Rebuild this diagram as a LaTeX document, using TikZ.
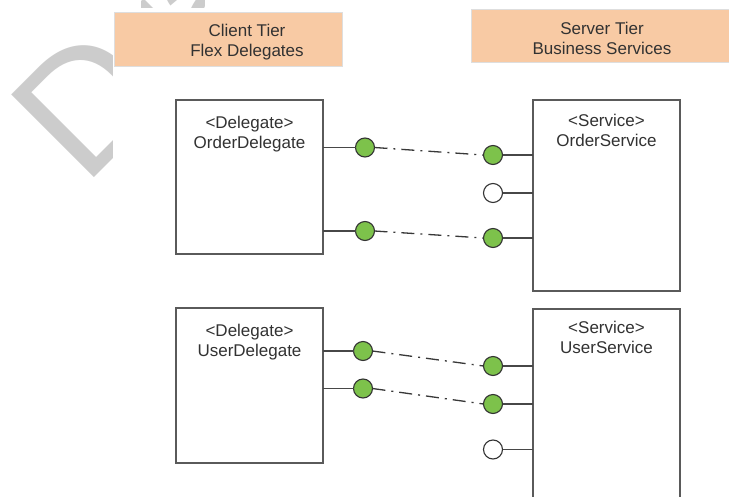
\documentclass[tikz,border=0pt]{standalone}
\usepackage{fontspec}
\setmainfont{Liberation Sans}
\usetikzlibrary{calc}
\definecolor{peach}{RGB}{248,202,164}
\definecolor{peachline}{RGB}{222,222,222}
\definecolor{boxline}{RGB}{90,90,90}
\definecolor{inktext}{RGB}{50,50,50}
\definecolor{lollygreen}{RGB}{125,194,75}
\definecolor{wmgrey}{RGB}{204,204,204}
\begin{document}
\begin{tikzpicture}[x=1pt,y=-1pt,
  tierbox/.style={draw=peachline,line width=0.8pt,fill=peach,inner sep=0pt,outer sep=0pt},
  tiertext/.style={align=center,inner sep=0pt,text=inktext,font=\fontsize{17}{20}\selectfont},
  compbox/.style={draw=boxline,line width=1.6pt,fill=white,inner sep=0pt,outer sep=0pt,minimum width=147pt},
  complabel/.style={align=center,inner sep=0pt,text=inktext,font=\fontsize{17}{20}\selectfont},
  port/.style={circle,draw=black!80,line width=1.1pt,fill=lollygreen,minimum size=19pt,inner sep=0pt,outer sep=0pt},
  freeport/.style={port,fill=white},
  stub/.style={draw=black!72,line width=1.4pt},
  wire/.style={draw=black!78,line width=1.3pt,dash pattern=on 13pt off 6pt on 2pt off 6pt},
  watermark/.style={text=wmgrey,inner sep=0pt,font=\fontsize{170}{170}\selectfont}]
\useasboundingbox (0,0) rectangle (729,496);
\clip (0,0) rectangle (729,496);
\fill[white] (0,0) rectangle (729,496);

% faint "Draft" stamp behind the drawing sheet
\node[watermark,rotate=45,anchor=base west] (stamp) at (84,188) {Draft};
% the drawing sheet hides most of the stamp
\fill[white] (113,8) rectangle (729,496);
\fill[white] (113,0) rectangle (141,8);
\fill[white] (205,0) rectangle (729,8);

% tier headers
\node[tierbox,minimum width=228pt,minimum height=54pt] (client) at (228,39) {};
\node[tiertext] (clienttxt) at (247,42.5) {Client Tier\\Flex Delegates};
\node[tierbox,minimum width=270pt,minimum height=53pt] (server) at (606,35.5) {};
\node[tiertext] (servertxt) at (602,38.5) {Server Tier\\Business Services};

% components
\node[compbox,minimum height=154pt] (od) at (249.5,177) {};
\node[complabel] (odl) at (249.5,134.5) {<Delegate>\\OrderDelegate};
\node[compbox,minimum height=191pt] (os) at (606.5,195.5) {};
\node[complabel] (osl) at (606.5,130.5) {<Service>\\OrderService};
\node[compbox,minimum height=155pt] (ud) at (249.5,385.5) {};
\node[complabel] (udl) at (249.5,342.5) {<Delegate>\\UserDelegate};
\node[compbox,minimum height=211pt] (us) at (606.5,414.5) {};
\node[complabel] (usl) at (606.5,337) {<Service>\\UserService};

% delegate ports
\node[port] (odp1) at (365,147.5) {};
\node[port] (odp2) at (365,231) {};
\node[port] (udp1) at (363,351) {};
\node[port] (udp2) at (363,388.5) {};
% service ports
\node[port] (osp1) at (493,155) {};
\node[freeport] (osp2) at (493,193) {};
\node[port] (osp3) at (493,238) {};
\node[port] (usp1) at (493,366) {};
\node[port] (usp2) at (493,404) {};
\node[freeport] (usp3) at (493,449.5) {};

% stubs joining ports to their components
\foreach \p in {odp1,odp2} \draw[stub] (\p -| od.east) -- (\p.west);
\foreach \p in {udp1,udp2} \draw[stub] (\p -| ud.east) -- (\p.west);
\foreach \p in {osp1,osp2,osp3} \draw[stub] (\p.east) -- (\p -| os.west);
\foreach \p in {usp1,usp2,usp3} \draw[stub] (\p.east) -- (\p -| us.west);

% delegate-to-service wiring
\draw[wire] (odp1.east) -- (osp1.west);
\draw[wire] (odp2.east) -- (osp3.west);
\draw[wire] (udp1.east) -- (usp1.west);
\draw[wire] (udp2.east) -- (usp2.west);
\end{tikzpicture}
\end{document}
